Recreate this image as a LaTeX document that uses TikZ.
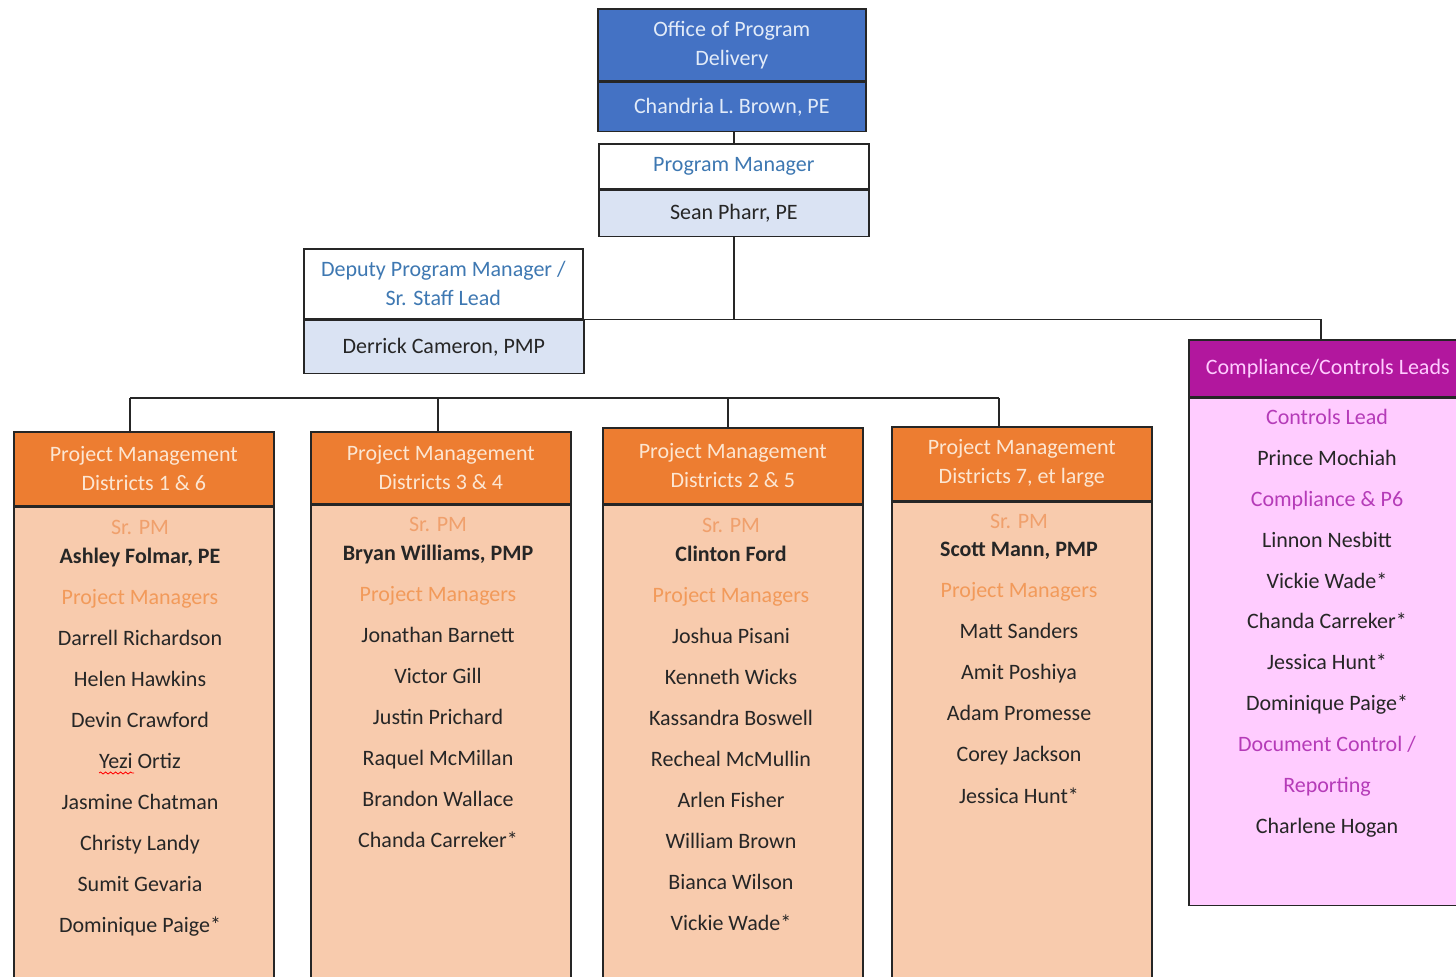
\documentclass[tikz,border=0pt]{standalone}
\usepackage{fontspec}
\setmainfont{Carlito}
\usepackage{tikz}
\usetikzlibrary{positioning,decorations.pathmorphing}

\definecolor{opdblue}{HTML}{4472C4}
\definecolor{opdtext}{HTML}{E2EBF8}
\definecolor{pmblue}{HTML}{3E78B2}
\definecolor{paleblue}{HTML}{DAE3F3}
\definecolor{pmorange}{HTML}{ED7D31}
\definecolor{cream}{HTML}{FCE6D2}
\definecolor{peach}{HTML}{F8CBAD}
\definecolor{srtext}{HTML}{F0A06C}
\definecolor{mgrtext}{HTML}{F29A5A}
\definecolor{ccmag}{HTML}{B2179E}
\definecolor{ccpink}{HTML}{FFCCFF}
\definecolor{cctext}{HTML}{B53BB8}
\definecolor{ink}{HTML}{262626}

\begin{document}
\begin{tikzpicture}[
        x=0.5pt,
        y=-0.5pt,
        font=\fontsize{11}{14.5}\selectfont,
        box/.style={draw=black!85, line width=0.8pt, inner sep=0pt, align=center, anchor=north west},
        link/.style={draw=black!85, line width=0.8pt},
        opd/.style={box, fill=opdblue, text=opdtext, minimum width=134pt},
        pmtop/.style={box, fill=white, text=pmblue, minimum width=135pt},
        pmbot/.style={box, fill=paleblue, text=ink, minimum width=135pt},
        hdr/.style={box, fill=pmorange, text=cream, minimum width=130pt},
        body/.style={box, fill=peach, minimum width=130pt, minimum height=245pt},
        entry/.style={anchor=base, inner sep=0pt},
        srpm/.style={entry, text=srtext},
        lead/.style={entry, text=ink, font=\fontsize{11}{14.5}\selectfont\bfseries},
        pmhd/.style={entry, text=mgrtext},
        mbr/.style={entry, text=ink},
        cchd/.style={entry, text=cctext}
    ]
        \useasboundingbox (0,0) rectangle (1456,977);

        % top of the chart
        \node[opd, minimum height=36pt] (opdtitle) at (597,8) {Office of Program\\Delivery};
        \node[opd, minimum height=24.5pt] (opdname) at (opdtitle.south west) {Chandria L. Brown, PE};
        \node[pmtop, minimum height=22.5pt] (pgmtitle) at (598,143) {Program Manager};
        \node[pmbot, minimum height=23pt] (pgmname) at (pgmtitle.south west) {Sean Pharr, PE};
        \node[pmtop, minimum width=139.5pt, minimum height=35pt] (deptitle) at (303,248) {Deputy Program Manager /\\Sr. Staff Lead};
        \node[pmbot, minimum width=140pt, minimum height=26.5pt] (depname) at (deptitle.south west) {Derrick Cameron, PMP};

        % compliance / controls
        \node[box, fill=ccmag, text=ccpink, minimum width=139pt, minimum height=28.5pt] (cchead) at (1188,339) {Compliance/Controls Leads\vphantom{gy}};
        \node[box, fill=ccpink, minimum width=139pt, minimum height=253.5pt] (ccbody) at (cchead.south west) {};

        \draw[link] (pgmtitle.north) -- (pgmtitle.north |- opdname.south);
        \draw[link] (pgmname.south) -- (pgmname.south |- deptitle.south);
        \draw[link] (deptitle.south east) -| (1321,339);

        % districts
        \node[hdr, minimum height=37pt] (d16head) at (13,431) {Project Management\\Districts 1 \& 6};
        \node[hdr, minimum height=36pt] (d34head) at (310,431) {Project Management\\Districts 3 \& 4};
        \node[hdr, minimum height=38pt] (d25head) at (602,427) {Project Management\\Districts 2 \& 5};
        \node[hdr, minimum height=37pt] (d7head) at (891,426) {Project Management\\Districts 7, et large};
        \node[body] (d16body) at (d16head.south west) {};
        \node[body] (d34body) at (d34head.south west) {};
        \node[body] (d25body) at (d25head.south west) {};
        \node[body] (d7body) at (d7head.south west) {};

        \coordinate (b1) at (130,398);
        \coordinate (b2) at (438,398);
        \coordinate (b3) at (728,398);
        \coordinate (b4) at (999,398);
        \draw[link] (b1) -- (b4);
        \draw[link] (b1) -- (b1 |- d16head.north);
        \draw[link] (b2) -- (b2 |- d34head.north);
        \draw[link] (b3) -- (b3 |- d25head.north);
        \draw[link] (b4) -- (b4 |- d7head.north);

        \node[srpm] (d16sr) at (140,535) {Sr. PM};
        \foreach \s/\t [count=\i] in {lead/{Ashley Folmar, PE}, pmhd/Project Managers, mbr/Darrell Richardson,
                mbr/Helen Hawkins, mbr/Devin Crawford, mbr/Yezi Ortiz, mbr/Jasmine Chatman,
                mbr/Christy Landy, mbr/Sumit Gevaria, mbr/Dominique Paige*} {
            \node[\s] (d16-\i) at (140,{564+40.9*(\i-1)}) {\t};
        }
        \draw[red, decorate, decoration={snake, amplitude=0.5pt, segment length=2.5pt}] (99,773) -- (134,773);

        \node[srpm] (d34sr) at (438,532) {Sr. PM};
        \foreach \s/\t [count=\i] in {lead/{Bryan Williams, PMP}, pmhd/Project Managers, mbr/Jonathan Barnett,
                mbr/Victor Gill, mbr/Justin Prichard, mbr/Raquel McMillan, mbr/Brandon Wallace,
                mbr/Chanda Carreker*} {
            \node[\s] (d34-\i) at (438,{561+40.9*(\i-1)}) {\t};
        }

        \node[srpm] (d25sr) at (731,533) {Sr. PM};
        \foreach \s/\t [count=\i] in {lead/Clinton Ford, pmhd/Project Managers, mbr/Joshua Pisani,
                mbr/Kenneth Wicks, mbr/Kassandra Boswell, mbr/Recheal McMullin, mbr/Arlen Fisher,
                mbr/William Brown, mbr/Bianca Wilson, mbr/Vickie Wade*} {
            \node[\s] (d25-\i) at (731,{562+40.9*(\i-1)}) {\t};
        }

        \node[srpm] (d7sr) at (1019,529) {Sr. PM};
        \foreach \s/\t [count=\i] in {lead/{Scott Mann, PMP}, pmhd/Project Managers, mbr/Matt Sanders,
                mbr/Amit Poshiya, mbr/Adam Promesse, mbr/Corey Jackson, mbr/Jessica Hunt*} {
            \node[\s] (d7-\i) at (1019,{557+41*(\i-1)}) {\t};
        }

        \foreach \s/\t [count=\i] in {cchd/Controls Lead, mbr/Prince Mochiah, cchd/Compliance \& P6,
                mbr/Linnon Nesbitt, mbr/Vickie Wade*, mbr/Chanda Carreker*, mbr/Jessica Hunt*,
                mbr/Dominique Paige*, cchd/{Document Control /}, cchd/Reporting, mbr/Charlene Hogan} {
            \node[\s] (cc-\i) at (1327,{425+40.8*(\i-1)}) {\t};
        }
    \end{tikzpicture}
\end{document}
